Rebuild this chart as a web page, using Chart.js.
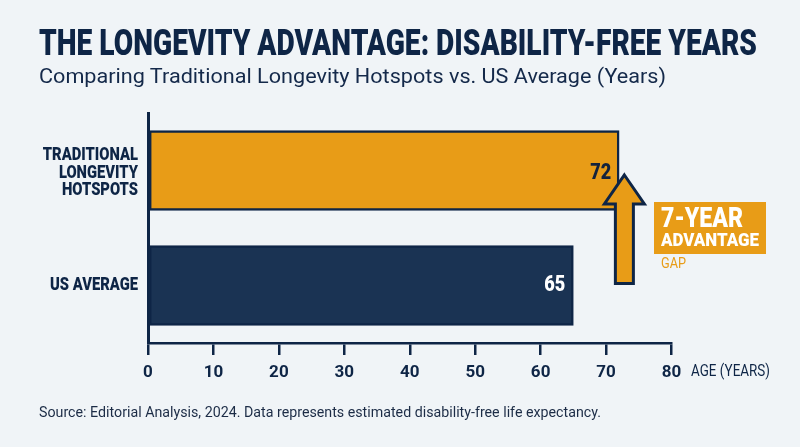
<!DOCTYPE html>
<html>
<head>
<meta charset="utf-8">
<script src="https://cdn.jsdelivr.net/npm/chart.js@4"></script>
<style>
    html, body { margin: 0; padding: 0; background: #f0f4f7; }
    #wrap { position: relative; width: 800px; height: 447px; overflow: hidden; }
    #wrap canvas { position: absolute; left: 0; top: 0; }
    .txt { position: absolute; white-space: nowrap; color: #0e2546; transform-origin: left center; }
    #title { left: 39px; top: 21px; font: 900 36px/44px Roboto, sans-serif; }
    #subtitle { left: 39px; top: 63px; font: 20.5px/26px Roboto, sans-serif; color: #14294a; }
    #source { left: 39px; top: 404px; font: 14.5px/18px Roboto, sans-serif; color: #1c2c46; }
</style>
</head>
<body>
<div id="wrap">
    <canvas id="ageChart" width="800" height="447"></canvas>
    <div class="txt" id="title" data-width="718">THE LONGEVITY ADVANTAGE: DISABILITY-FREE YEARS</div>
    <div class="txt" id="subtitle" data-width="627">Comparing Traditional Longevity Hotspots vs. US Average (Years)</div>
    <div class="txt" id="source" data-width="562">Source: Editorial Analysis, 2024. Data represents estimated disability-free life expectancy.</div>
</div>
<script>
const categories = [['TRADITIONAL', 'LONGEVITY', 'HOTSPOTS'], ['US AVERAGE']];
const ageValues = [72, 65];
const barColors = ['#e89c17', '#1a3353'];
const valueColors = ['#14233c', '#ffffff'];
const axisTicks = [0, 10, 20, 30, 40, 50, 60, 70, 80];

const NAVY = '#0e2546';
const ORANGE = '#e89c17';
const FONT = 'Roboto, sans-serif';
// The reference's two rows sit slightly closer together than even category bands
const ROW_NUDGE = [1.5, -1];

// No condensed face is installed, so squeeze the text to the reference width
function fillFitted(ctx, text, x, y, width) {
    ctx.fillText(text, x, y, width);
}

// Category labels, value labels, gap arrow, badge and axis caption
const overlayPlugin = {
    id: 'overlay',
    afterDatasetsDraw(chart) {
        const ctx = chart.ctx;
        const x = chart.scales.x;
        const y = chart.scales.y;
        const meta = chart.getDatasetMeta(0);
        ctx.save();
        ctx.textBaseline = 'middle';

        // category labels
        ctx.font = '900 18px ' + FONT;
        ctx.textAlign = 'right';
        ctx.fillStyle = NAVY;
        categories.forEach(function (lines, i) {
            const cy = y.getPixelForValue(i) + ROW_NUDGE[i];
            lines.forEach(function (line, j) {
                const ly = cy + (j - (lines.length - 1) / 2) * 17.6;
                fillFitted(ctx, line, 138, ly + 1, ctx.measureText(line).width * 0.82);
            });
        });

        // values inside the bars
        ctx.font = '900 22px ' + FONT;
        meta.data.forEach(function (bar, i) {
            ctx.fillStyle = valueColors[i];
            fillFitted(ctx, String(ageValues[i]), bar.x - 8, bar.y + 1 + ROW_NUDGE[i], 21);
        });

        // arrow
        const cx = x.getPixelForValue(72.8);
        const tipY = 175, headY = 204, tailY = 283.5;
        ctx.beginPath();
        ctx.moveTo(cx, tipY);
        ctx.lineTo(cx + 20, headY);
        ctx.lineTo(cx + 9, headY);
        ctx.lineTo(cx + 9, tailY);
        ctx.lineTo(cx - 9, tailY);
        ctx.lineTo(cx - 9, headY);
        ctx.lineTo(cx - 20, headY);
        ctx.closePath();
        ctx.fillStyle = ORANGE;
        ctx.fill();
        ctx.lineWidth = 3;
        ctx.strokeStyle = NAVY;
        ctx.lineJoin = 'miter';
        ctx.stroke();

        // badge
        ctx.fillStyle = ORANGE;
        ctx.fillRect(654, 202, 112, 52);
        ctx.textAlign = 'left';
        ctx.fillStyle = '#ffffff';
        ctx.font = '900 28px ' + FONT;
        fillFitted(ctx, '7-YEAR', 661, 219.5, 82);
        ctx.font = '900 19px ' + FONT;
        fillFitted(ctx, 'ADVANTAGE', 661, 241, 98);
        ctx.fillStyle = ORANGE;
        ctx.font = '15px ' + FONT;
        fillFitted(ctx, 'GAP', 661, 264, 25);

        // axis caption
        ctx.fillStyle = NAVY;
        ctx.font = '16.5px ' + FONT;
        fillFitted(ctx, 'AGE (YEARS)', 691, 372, 79);
        ctx.restore();
    }
};

function drawAgeChart() {
    const ctx = document.getElementById('ageChart').getContext('2d');
    new Chart(ctx, {
        type: 'bar',
        data: {
            labels: categories,
            datasets: [{
                data: ageValues,
                backgroundColor: barColors,
                borderColor: NAVY,
                borderWidth: 2.5,
                borderSkipped: false,
                barThickness: 80
            }]
        },
        options: {
            indexAxis: 'y',
            responsive: false,
            animation: false,
            layout: { padding: { top: 113, right: 128.5, bottom: 0, left: 0 } },
            plugins: {
                legend: { display: false },
                tooltip: { enabled: false }
            },
            scales: {
                x: {
                    min: 0,
                    max: 80,
                    afterBuildTicks: function (axis) {
                        axis.ticks = axisTicks.map(function (v) { return { value: v }; });
                    },
                    afterFit: function (axis) { axis.height = 104; },
                    border: { color: NAVY, width: 2.5 },
                    grid: { drawOnChartArea: false, color: NAVY, lineWidth: 2.5, tickLength: 12, tickColor: NAVY },
                    ticks: {
                        color: NAVY,
                        padding: 8,
                        maxRotation: 0,
                        font: { family: FONT, size: 17, weight: 'bold' }
                    }
                },
                y: {
                    afterFit: function (axis) { axis.width = 148; },
                    border: { color: NAVY, width: 3 },
                    grid: { display: false, drawTicks: false },
                    ticks: { display: false }
                }
            }
        },
        plugins: [overlayPlugin]
    });

    // Stretch or squeeze the heading lines to their reference widths
    document.querySelectorAll('.txt').forEach(function (el) {
        const ratio = Number(el.dataset.width) / el.getBoundingClientRect().width;
        el.style.transform = 'scaleX(' + ratio + ')';
    });
}

document.addEventListener('DOMContentLoaded', drawAgeChart);
</script>
</body>
</html>
